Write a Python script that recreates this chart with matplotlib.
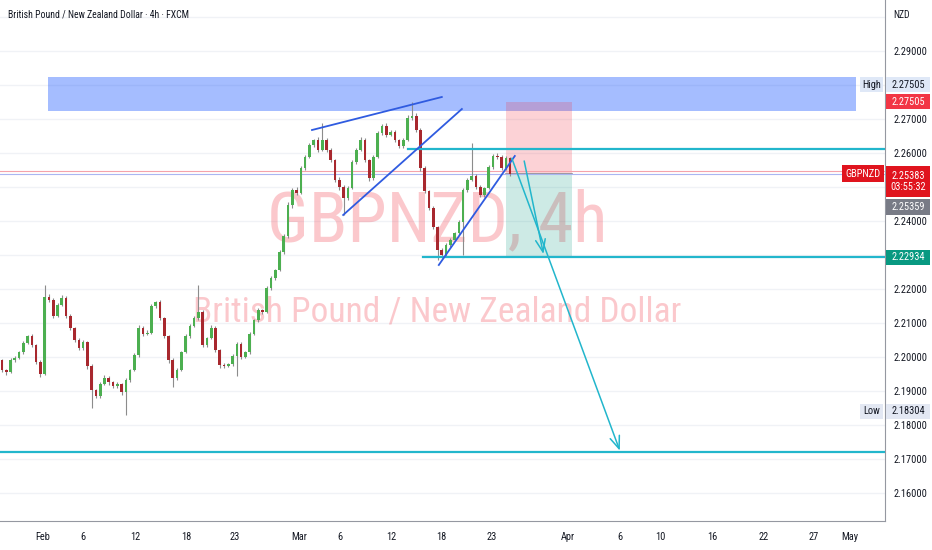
import numpy as np
import matplotlib
matplotlib.use('Agg')
import matplotlib.pyplot as plt
from matplotlib.patches import Rectangle
from matplotlib.transforms import blended_transform_factory

plt.rcParams['font.family'] = ['Liberation Sans Narrow', 'Roboto Condensed', 'Liberation Sans', 'DejaVu Sans']

# GBPNZD 4h candles (about 3 candles per trading day)
first_open = 2.1990
close = [
    2.1962, 2.1956, 2.1991, 2.1997, 2.2015, 2.2041, 2.2062, 2.2035, 2.1985, 2.1950,
    2.2176, 2.2168, 2.2121, 2.2153, 2.2174, 2.2121, 2.2085, 2.2050, 2.2026, 2.2044,
    2.1974, 2.1903, 2.1885, 2.1921, 2.1938, 2.1926, 2.1915, 2.1921, 2.1897, 2.1932,
    2.1962, 2.2006, 2.2085, 2.2068, 2.2071, 2.2150, 2.2162, 2.2115, 2.2062, 2.1991,
    2.1938, 2.1962, 2.2015, 2.2062, 2.2091, 2.2115, 2.2132, 2.2035, 2.2056, 2.2085,
    2.2021, 2.1976, 2.1974, 2.1979, 2.2003, 2.2038, 2.2000, 2.2015, 2.2068, 2.2109,
    2.2138, 2.2132, 2.2203, 2.2232, 2.2256, 2.2309, 2.2356, 2.2447, 2.2491, 2.2482,
    2.2556, 2.2588, 2.2624, 2.2638, 2.2609, 2.2638, 2.2609, 2.2579, 2.2521, 2.2500,
    2.2468, 2.2497, 2.2574, 2.2609, 2.2638, 2.2579, 2.2526, 2.2588, 2.2659, 2.2679,
    2.2653, 2.2662, 2.2638, 2.2621, 2.2638, 2.2703, 2.2709, 2.2668, 2.2556, 2.2488,
    2.2438, 2.2382, 2.2315, 2.2300, 2.2329, 2.2344, 2.2365, 2.2397, 2.2491, 2.2521,
    2.2532, 2.2500, 2.2476, 2.2497, 2.2559, 2.2591, 2.2588, 2.2556, 2.2585, 2.25383,
]
# wicks in pips beyond the body
upper_wick = [
    4, 3, 6, 5, 4, 7, 3, 5, 4, 6,
    35, 8, 5, 6, 9, 4, 5, 3, 6, 7,
    4, 5, 3, 6, 8, 5, 4, 6, 3, 5,
    4, 6, 9, 5, 7, 6, 4, 5, 3, 4,
    6, 5, 4, 7, 5, 6, 80, 5, 4, 8,
    5, 3, 6, 4, 7, 5, 6, 4, 5, 3,
    6, 4, 5, 7, 4, 6, 5, 8, 6, 9,
    5, 7, 6, 4, 8, 50, 6, 5, 4, 7,
    5, 6, 4, 7, 9, 5, 4, 6, 7, 5,
    8, 6, 5, 4, 7, 9, 41.5, 8, 5, 6,
    4, 5, 3, 6, 5, 7, 4, 6, 5, 6,
    97, 6, 5, 4, 7, 6, 8, 5, 7, 4,
]
lower_wick = [
    6, 8, 4, 5, 3, 6, 4, 5, 7, 10,
    4, 6, 5, 4, 3, 6, 5, 7, 4, 5,
    8, 53, 6, 5, 4, 7, 5, 6, 8, 66.6,
    5, 4, 6, 5, 3, 4, 6, 5, 7, 8,
    26, 5, 4, 3, 6, 4, 5, 7, 5, 4,
    6, 8, 5, 4, 6, 60, 5, 4, 6, 3,
    5, 6, 4, 5, 7, 4, 6, 5, 8, 6,
    4, 5, 3, 6, 5, 4, 7, 6, 5, 8,
    50, 6, 4, 5, 3, 6, 9, 5, 4, 6,
    5, 4, 7, 6, 5, 4, 6, 5, 8, 6,
    7, 5, 30, 8, 6, 5, 4, 6, 97, 5,
    4, 7, 6, 5, 4, 6, 5, 7, 6, 5,
]

# time axis (candle index units)
tick_pos = [9.6, 19.0, 31.1, 43.1, 54.6, 69.6, 79.2, 91.1, 103.0, 114.8,
            132.6, 144.8, 154.3, 166.3, 178.5, 190.2, 198.6]
tick_lab = ['Feb', '6', '12', '18', '23', 'Mar', '6', '12', '18', '23',
            'Apr', '6', '10', '16', '22', '27', 'May']
price_ticks = [2.16, 2.17, 2.18, 2.19, 2.20, 2.21, 2.22, 2.23, 2.24, 2.25,
               2.26, 2.27, 2.28, 2.29]
hidden_ticks = [2.23, 2.25, 2.28]   # covered by the price badges

# drawings
zone_x = [10.8, 200.0]
zone_y = [2.27235, 2.28235]
wedge_top = ([72.6, 103.0], [2.26676, 2.27647])
wedge_low = ([79.9, 107.7], [2.24176, 2.27294])
channel_low = ([102.3, 120.1], [2.22706, 2.25912])
level_hi = 2.2611
level_hi_x0 = 95.1
level_tp = 2.22934
level_tp_x0 = 98.6
level_low = 2.1721
pos_x = [118.0, 133.5]
pos_stop, pos_entry, pos_target = 2.2750, 2.25383, 2.22934
arrow_short = ([122.3, 126.8], [2.25765, 2.23029])
arrow_long = ([119.4, 144.7], [2.25844, 2.17244])
pink_line = 2.2547
lilac_line = 2.2538

W, H = 932, 550
green, red, wick_c = '#4caf50', '#a8282e', '#8c8c8c'
teal, blue = '#22b6cc', '#2f5be0'
txt = '#131722'

fig = plt.figure(figsize=(W / 100, H / 100), dpi=100)
fig.patch.set_facecolor('white')
ax = fig.add_axes([0, 1 - 521 / H, 885 / W, 521 / H])
ax.set_facecolor('white')
ax.set_xlim(-0.47, 206.8)
ax.set_ylim(2.15176, 2.3050)

for p in price_ticks + [2.30]:
    ax.axhline(p, color='#f0f2f6', lw=1, zorder=0)

# watermark
ax.text(102, 2.2398, 'GBPNZD, 4h', fontsize=51, color='#f23645', alpha=0.27,
        ha='center', va='center', zorder=1, fontstretch='condensed')
ax.text(102, 2.2132, 'British Pound / New Zealand Dollar', fontsize=25.5,
        color='#f23645', alpha=0.27, ha='center', va='center', zorder=1,
        fontstretch='condensed')

# resistance zone
ax.add_patch(Rectangle((zone_x[0], zone_y[0]), zone_x[1] - zone_x[0], zone_y[1] - zone_y[0],
                       facecolor='#2962ff', alpha=0.42, edgecolor='none', zorder=1))
# short position box
ax.add_patch(Rectangle((pos_x[0], pos_entry), pos_x[1] - pos_x[0], pos_stop - pos_entry,
                       facecolor='#f23645', alpha=0.22, edgecolor='none', zorder=1))
ax.add_patch(Rectangle((pos_x[0], pos_target), pos_x[1] - pos_x[0], pos_entry - pos_target,
                       facecolor='#089981', alpha=0.2, edgecolor='none', zorder=1))
ax.plot(pos_x, [pos_entry, pos_entry], color='#8a8d96', lw=1.2, zorder=2)

ax.axhline(pink_line, color='#f5a3ab', lw=0.8, zorder=2)
ax.axhline(lilac_line, color='#aab6f2', lw=0.8, zorder=2)

# candles
x = np.arange(len(close))
c = np.array(close)
o = np.r_[first_open, c[:-1]]
hi = np.maximum(o, c) + np.array(upper_wick) * 1e-4
lo = np.minimum(o, c) - np.array(lower_wick) * 1e-4
up = c >= o
ax.vlines(x, lo, hi, color=wick_c, lw=0.8, zorder=3)
ax.bar(x, c - o, bottom=o, width=0.62, color=np.where(up, green, red), zorder=4)

# levels
ax.plot([level_hi_x0, 206.8], [level_hi, level_hi], color=teal, lw=1.6, zorder=5)
ax.plot([level_tp_x0, 206.8], [level_tp, level_tp], color=teal, lw=1.6, zorder=5)
ax.axhline(level_low, color=teal, lw=1.6, zorder=5)

# wedge lines
for xs, ys in (wedge_top, wedge_low, channel_low):
    ax.plot(xs, ys, color=blue, lw=1.3, zorder=5)

# arrows
for xs, ys in (arrow_short, arrow_long):
    ax.annotate('', xy=(xs[1], ys[1]), xytext=(xs[0], ys[0]),
                arrowprops=dict(arrowstyle='->,head_length=0.9,head_width=0.35',
                                color=teal, lw=1.1, shrinkA=0, shrinkB=0), zorder=5)

# axes look
for s in ('top', 'left'):
    ax.spines[s].set_visible(False)
ax.spines['right'].set_color('#9598a1')
ax.spines['bottom'].set_color('#9598a1')
ax.set_xticks(tick_pos)
ax.set_xticklabels(tick_lab)
ax.yaxis.tick_right()
ax.set_yticks(price_ticks)
ax.set_yticklabels(['' if p in hidden_ticks else '%.5f' % p for p in price_ticks])
ax.tick_params(axis='x', length=0, pad=8, labelsize=7.5, labelcolor=txt)
ax.tick_params(axis='y', length=0, pad=6, labelsize=7.5, labelcolor=txt)

fig.text(8 / W, 1 - 15 / H, 'British Pound / New Zealand Dollar · 4h · FXCM',
         fontsize=7, color=txt, ha='left', va='center')
fig.text(893 / W, 1 - 15 / H, 'NZD', fontsize=7, color=txt, ha='left', va='center')

# price scale badges
bt = blended_transform_factory(fig.transFigure, ax.transData)
px_per_unit = 521 / (2.3050 - 2.15176)


def badge(x0, x1, yc, h_px, text, fc, tc, fs=7.5):
    h = h_px / px_per_unit
    fig.add_artist(Rectangle((x0 / W, yc - h / 2), (x1 - x0) / W, h, transform=bt,
                             facecolor=fc, edgecolor='none', zorder=5))
    fig.text((x0 + x1) / 2 / W, yc, text, transform=bt, fontsize=fs, color=tc,
             ha='center', va='center', zorder=6, linespacing=1.15)


badge(860, 883, 2.2801, 15, 'High', '#dfe8f7', txt)
badge(886, 930, 2.2801, 15, '2.27505', '#dfe8f7', txt)
badge(886, 930, 2.2750, 15, '2.27505', '#f23645', 'white')
badge(842, 884, 2.25383, 17, 'GBPNZD', '#e0141e', 'white')
badge(886, 930, 2.2516, 31, '2.25383\n03:55:32', '#e0141e', 'white')
badge(886, 930, 2.24412, 16, '2.25359', '#787b86', 'white')
badge(886, 930, 2.22934, 15, '2.22934', '#089981', 'white')
badge(860, 883, 2.1841, 15, 'Low', '#e3e8f3', txt)
badge(886, 930, 2.1841, 15, '2.18304', '#e3e8f3', txt)

fig.savefig('out.png', dpi=100)
